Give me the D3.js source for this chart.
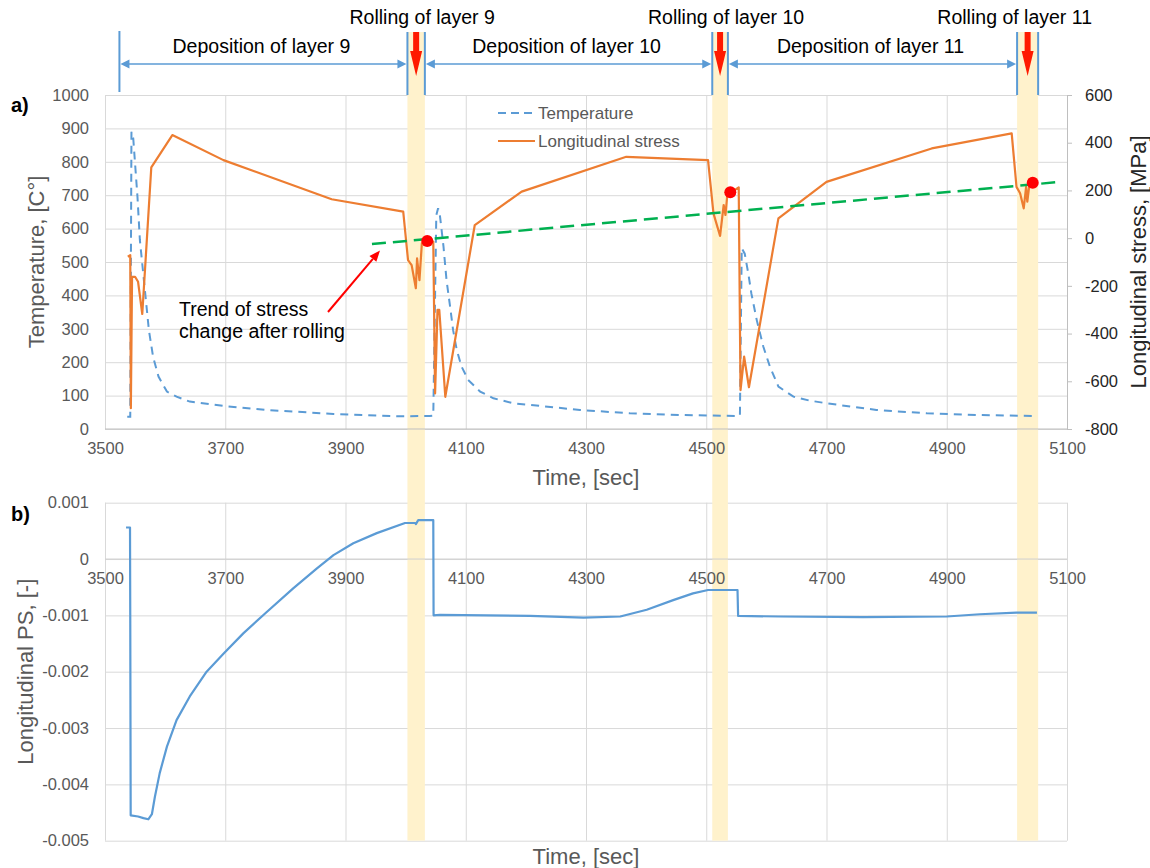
<!DOCTYPE html>
<html>
<head>
<meta charset="utf-8">
<script src="https://cdn.jsdelivr.net/npm/d3@7"></script>
<style>
  body { margin: 0; background: #fff; }
  text { font-family: "Liberation Sans", Arial, sans-serif; }
</style>
</head>
<body>
<div id="chart"></div>
<script>
const width = 1150;
const height = 868;

// ---- data ----
const timeTicks = [3500, 3700, 3900, 4100, 4300, 4500, 4700, 4900, 5100];
const tempTicks = [0, 100, 200, 300, 400, 500, 600, 700, 800, 900, 1000];
const stressTicks = [-800, -600, -400, -200, 0, 200, 400, 600];
const psTicks = [-0.005, -0.004, -0.003, -0.002, -0.001, 0, 0.001];

// temperature (left axis, C)
const tempTime = [3537, 3542, 3544, 3547, 3550, 3554, 3558, 3563, 3568, 3573, 3580, 3589, 3603, 3619, 3641, 3702, 3769, 3880, 3991,
  4040, 4046, 4051, 4054, 4057, 4063, 4068, 4074, 4079, 4085, 4093, 4104, 4124, 4146, 4179, 4207, 4290, 4373, 4456, 4553,
  4556, 4559, 4564, 4570, 4575, 4584, 4595, 4606, 4620, 4645, 4672, 4700, 4783, 4867, 4950, 5043];
const tempVal = [37, 37, 890, 870, 795, 695, 566, 476, 386, 296, 216, 157, 112, 97, 82, 68, 57, 45, 38,
  39, 40, 640, 661, 640, 546, 446, 366, 296, 237, 187, 147, 112, 92, 77, 72, 57, 47, 42, 39,
  40, 541, 525, 465, 406, 326, 246, 186, 127, 97, 85, 77, 57, 47, 42, 39];

// longitudinal stress (right axis, MPa)
const stressTime = [3538, 3542, 3543, 3545, 3550, 3555, 3562, 3577, 3612, 3697, 3877, 3996,
  4004, 4010, 4017, 4019, 4023, 4027, 4046, 4049, 4053, 4056, 4066, 4115, 4193, 4367, 4503,
  4512, 4523, 4529, 4532, 4535, 4554, 4557, 4563, 4571, 4620, 4700, 4875, 5008,
  5016, 5022, 5028, 5032, 5034, 5037, 5043];
const stressVal = [-78, -71, -713, -162, -162, -183, -318, 297, 432, 327, 163, 111,
  -92, -113, -210, -85, -176, -22, -15, -651, -301, -301, -665, 55, 195, 341, 327,
  104, 9, 139, 97, 181, 213, -637, -497, -625, 83, 236, 376, 439,
  215, 188, 125, 215, 153, 215, 232];

// stress after rolling and its trend
const dotTime = [4036, 4540, 5043];
const dotStress = [-12, 192, 232];
const trendTime = [3944, 5090];
const trendStress = [-25, 236];

// longitudinal plastic strain (panel b)
const psTime = [3535, 3541.6, 3542, 3542.7, 3555, 3564, 3572, 3578, 3583, 3591, 3603, 3619, 3641, 3669, 3697, 3730, 3769, 3813,
  3852, 3880, 3913, 3952, 3999, 4016, 4017, 4021, 4046, 4046.5, 4057, 4207, 4296, 4357, 4401, 4445, 4478, 4503,
  4552, 4553, 4623, 4761, 4900, 4955, 5016, 5050];
const psVal = [0.00056, 0.00056, -0.00097, -0.00455, -0.00457, -0.0046, -0.00462, -0.00453, -0.00422, -0.0038, -0.00333,
  -0.00286, -0.00244, -0.002, -0.00168, -0.00132, -0.00094, -0.00052,
  -0.00017, 0.00007, 0.00028, 0.00046, 0.00064, 0.00064, 0.00062, 0.00069, 0.00069, -0.001, -0.00099, -0.00101, -0.00104,
  -0.00102, -0.0009, -0.00073, -0.00061, -0.00055,
  -0.00055, -0.00101, -0.00102, -0.00103, -0.00102, -0.00098, -0.00095, -0.00095];

// rolling windows and deposition phases
const rollStart = [4003, 4510, 5017];
const rollEnd = [4032, 4536, 5052];
const rollLabels = ['Rolling of layer 9', 'Rolling of layer 10', 'Rolling of layer 11'];
const depoStart = [3524, 4032, 4536];
const depoEnd = [4003, 4510, 5017];
const depoLabels = ['Deposition of layer 9', 'Deposition of layer 10', 'Deposition of layer 11'];

// ---- layout ----
const left = 105, right = 1067;
const aTop = 95, aBottom = 429;
const bTop = 502.7, bBottom = 840.7;

const gridColor = '#D9D9D9';
const labelColor = '#595959';
const blue = '#5B9BD5';
const orange = '#ED7D31';

const svg = d3.select('#chart')
  .append('svg')
  .attr('width', width)
  .attr('height', height);

const x = d3.scaleLinear().domain([3500, 5100]).range([left, right]);
const yTemp = d3.scaleLinear().domain([0, 1000]).range([aBottom, aTop]);
const yStress = d3.scaleLinear().domain([-800, 600]).range([aBottom, aTop]);
const yPS = d3.scaleLinear().domain([-0.005, 0.001]).range([bBottom, bTop]);

// plain hyphen minus, no thousands separator
const plain = d => String(d);
const psFormat = d => d === 0 ? '0' : d.toFixed(3);

function styleGrid(g) {
  g.select('.domain').remove();
  g.selectAll('line').attr('stroke', gridColor).attr('stroke-width', 1);
}

function styleLabels(g, size, color) {
  g.select('.domain').remove();
  g.selectAll('text')
    .attr('font-size', size)
    .attr('fill', color);
}

// ---- grids ----
svg.append('g')
  .attr('transform', `translate(0, ${aBottom})`)
  .call(d3.axisBottom(x).tickValues(timeTicks).tickSize(-(aBottom - aTop)).tickFormat(''))
  .call(styleGrid);

svg.append('g')
  .attr('transform', `translate(${left}, 0)`)
  .call(d3.axisLeft(yTemp).tickValues(tempTicks).tickSize(-(right - left)).tickFormat(''))
  .call(styleGrid);

svg.append('g')
  .attr('transform', `translate(0, ${bBottom})`)
  .call(d3.axisBottom(x).tickValues(timeTicks).tickSize(-(bBottom - bTop)).tickFormat(''))
  .call(styleGrid);

svg.append('g')
  .attr('transform', `translate(${left}, 0)`)
  .call(d3.axisLeft(yPS).tickValues(psTicks).tickSize(-(right - left)).tickFormat(''))
  .call(styleGrid);

// ---- rolling bands (yellow) ----
const bands = svg.append('g');
rollStart.forEach((s, i) => {
  bands.append('rect')
    .attr('x', x(s))
    .attr('y', 32)
    .attr('width', x(rollEnd[i]) - x(s))
    .attr('height', bBottom - 32)
    .attr('fill', '#FFF2CC');
});

// ---- axes panel a ----
svg.append('line')
  .attr('x1', left).attr('x2', right)
  .attr('y1', aBottom).attr('y2', aBottom)
  .attr('stroke', '#BFBFBF');

svg.append('g')
  .attr('transform', `translate(0, ${aBottom})`)
  .call(d3.axisBottom(x).tickValues(timeTicks).tickSize(0).tickPadding(13.3).tickFormat(plain))
  .call(g => styleLabels(g, 16.5, labelColor));

svg.append('g')
  .attr('transform', `translate(${left}, 0)`)
  .call(d3.axisLeft(yTemp).tickValues(tempTicks).tickSize(0).tickPadding(16).tickFormat(plain))
  .call(g => styleLabels(g, 16.5, labelColor));

const rightAxis = svg.append('g')
  .attr('transform', `translate(${right}, 0)`)
  .call(d3.axisRight(yStress).tickValues(stressTicks).tickSize(5).tickPadding(13).tickFormat(plain));
rightAxis.select('.domain').attr('stroke', '#BFBFBF');
rightAxis.selectAll('line').attr('stroke', '#BFBFBF');
rightAxis.selectAll('text').attr('font-size', 16.5).attr('fill', '#262626');

// ---- axes panel b ----
svg.append('line')
  .attr('x1', left).attr('x2', right)
  .attr('y1', yPS(0)).attr('y2', yPS(0))
  .attr('stroke', '#CFCFCF');

svg.append('g')
  .attr('transform', `translate(0, ${yPS(0)})`)
  .call(d3.axisBottom(x).tickValues(timeTicks).tickSize(0).tickPadding(13.3).tickFormat(plain))
  .call(g => styleLabels(g, 16.5, labelColor));

svg.append('g')
  .attr('transform', `translate(${left}, 0)`)
  .call(d3.axisLeft(yPS).tickValues(psTicks).tickSize(0).tickPadding(16).tickFormat(psFormat))
  .call(g => styleLabels(g, 16.5, labelColor));

// ---- axis titles ----
svg.append('text')
  .attr('transform', `translate(44, ${(aTop + aBottom) / 2}) rotate(-90)`)
  .attr('text-anchor', 'middle')
  .attr('font-size', 22)
  .attr('fill', labelColor)
  .text('Temperature, [C°]');

svg.append('text')
  .attr('transform', `translate(1146, ${(aTop + aBottom) / 2}) rotate(-90)`)
  .attr('text-anchor', 'middle')
  .attr('font-size', 22)
  .attr('fill', '#262626')
  .text('Longitudinal stress, [MPa]');

svg.append('text')
  .attr('x', (left + right) / 2)
  .attr('y', 485)
  .attr('text-anchor', 'middle')
  .attr('font-size', 22)
  .attr('fill', labelColor)
  .text('Time, [sec]');

svg.append('text')
  .attr('transform', `translate(33, ${(bTop + bBottom) / 2}) rotate(-90)`)
  .attr('text-anchor', 'middle')
  .attr('font-size', 22)
  .attr('fill', labelColor)
  .text('Longitudinal PS, [-]');

svg.append('text')
  .attr('x', (left + right) / 2)
  .attr('y', 864)
  .attr('text-anchor', 'middle')
  .attr('font-size', 22)
  .attr('fill', labelColor)
  .text('Time, [sec]');

svg.append('text')
  .attr('x', 11).attr('y', 112)
  .attr('font-size', 20).attr('font-weight', 'bold').attr('fill', '#000')
  .text('a)');

svg.append('text')
  .attr('x', 11).attr('y', 521)
  .attr('font-size', 20).attr('font-weight', 'bold').attr('fill', '#000')
  .text('b)');

// ---- header: deposition / rolling ----
const header = svg.append('g');
const arrowY = 64;

header.append('line')
  .attr('x1', x(depoStart[0])).attr('x2', x(depoStart[0]))
  .attr('y1', 31).attr('y2', 92)
  .attr('stroke', blue).attr('stroke-width', 2);

rollStart.forEach((s, i) => {
  [s, rollEnd[i]].forEach(t => {
    header.append('line')
      .attr('x1', x(t)).attr('x2', x(t))
      .attr('y1', 32).attr('y2', 95)
      .attr('stroke', blue).attr('stroke-width', 2);
  });
});

function arrowHead(g, xTip, y, dir, color) {
  // dir = 1 points right, -1 points left
  g.append('path')
    .attr('d', `M${xTip},${y} L${xTip - dir * 9},${y - 4.5} L${xTip - dir * 9},${y + 4.5} Z`)
    .attr('fill', color);
}

depoStart.forEach((s, i) => {
  const x1 = x(s) + 1, x2 = x(depoEnd[i]) - 1;
  header.append('line')
    .attr('x1', x1 + 6).attr('x2', x2 - 6)
    .attr('y1', arrowY).attr('y2', arrowY)
    .attr('stroke', blue).attr('stroke-width', 1.6);
  arrowHead(header, x1, arrowY, -1, blue);
  arrowHead(header, x2, arrowY, 1, blue);
  header.append('text')
    .attr('x', (x(s) + x(depoEnd[i])) / 2 - 2)
    .attr('y', 53)
    .attr('text-anchor', 'middle')
    .attr('font-size', 19.5)
    .attr('fill', '#000')
    .text(depoLabels[i]);
});

rollStart.forEach((s, i) => {
  const cx = (x(s) + x(rollEnd[i])) / 2;
  // red down arrow inside the band
  header.append('path')
    .attr('d', `M${cx - 3},32 L${cx + 3},32 L${cx + 3},51 L${cx + 6},51 L${cx},76 L${cx - 6},51 L${cx - 3},51 Z`)
    .attr('fill', '#FF1A00');
  const label = header.append('text')
    .attr('x', cx + 6)
    .attr('y', 24)
    .attr('text-anchor', 'middle')
    .attr('font-size', 19.5)
    .attr('fill', '#000')
    .text(rollLabels[i]);
  const w = label.node().getComputedTextLength();
  if (cx + 6 + w / 2 > 1092) label.attr('x', 1092 - w / 2);
});

// ---- series panel a ----
const tempLine = d3.line().x(d => x(d[0])).y(d => yTemp(d[1]));
const stressLine = d3.line().x(d => x(d[0])).y(d => yStress(d[1]));
const psLine = d3.line().x(d => x(d[0])).y(d => yPS(d[1]));

svg.append('path')
  .datum(d3.zip(tempTime, tempVal))
  .attr('d', tempLine)
  .attr('fill', 'none')
  .attr('stroke', blue)
  .attr('stroke-width', 2)
  .attr('stroke-dasharray', '8,6');

svg.append('path')
  .datum(d3.zip(stressTime, stressVal))
  .attr('d', stressLine)
  .attr('fill', 'none')
  .attr('stroke', orange)
  .attr('stroke-width', 2.2)
  .attr('stroke-linejoin', 'round');

svg.append('path')
  .datum(d3.zip(trendTime, trendStress))
  .attr('d', stressLine)
  .attr('fill', 'none')
  .attr('stroke', '#00B050')
  .attr('stroke-width', 2.5)
  .attr('stroke-dasharray', '14,7');

svg.selectAll('.dot')
  .data(d3.zip(dotTime, dotStress))
  .enter()
  .append('circle')
  .attr('class', 'dot')
  .attr('cx', d => x(d[0]))
  .attr('cy', d => yStress(d[1]))
  .attr('r', 6)
  .attr('fill', '#FF0000');

// ---- legend ----
const legend = svg.append('g');
legend.append('line')
  .attr('x1', 498).attr('x2', 535).attr('y1', 113).attr('y2', 113)
  .attr('stroke', blue).attr('stroke-width', 2).attr('stroke-dasharray', '8,5');
legend.append('text')
  .attr('x', 538).attr('y', 119)
  .attr('font-size', 17).attr('fill', labelColor)
  .text('Temperature');
legend.append('line')
  .attr('x1', 498).attr('x2', 535).attr('y1', 141).attr('y2', 141)
  .attr('stroke', orange).attr('stroke-width', 2.2);
legend.append('text')
  .attr('x', 538).attr('y', 147)
  .attr('font-size', 17).attr('fill', labelColor)
  .text('Longitudinal stress');

// ---- trend annotation ----
svg.append('text')
  .attr('x', 179).attr('y', 316)
  .attr('font-size', 19.5).attr('fill', '#000')
  .text('Trend of stress');
svg.append('text')
  .attr('x', 179).attr('y', 338)
  .attr('font-size', 19.5).attr('fill', '#000')
  .text('change after rolling');

const ax1 = 328, ay1 = 312, ax2 = 380, ay2 = 250.5;
const ang = Math.atan2(ay2 - ay1, ax2 - ax1);
const hl = 11, hw = 4.5;
const bx = ax2 - hl * Math.cos(ang), by = ay2 - hl * Math.sin(ang);
svg.append('line')
  .attr('x1', ax1).attr('y1', ay1).attr('x2', bx).attr('y2', by)
  .attr('stroke', '#FF0000').attr('stroke-width', 2);
svg.append('path')
  .attr('d', `M${ax2},${ay2} L${bx - hw * Math.sin(ang)},${by + hw * Math.cos(ang)} L${bx + hw * Math.sin(ang)},${by - hw * Math.cos(ang)} Z`)
  .attr('fill', '#FF0000');

// ---- series panel b ----
svg.append('path')
  .datum(d3.zip(psTime, psVal))
  .attr('d', psLine)
  .attr('fill', 'none')
  .attr('stroke', blue)
  .attr('stroke-width', 2.2)
  .attr('stroke-linejoin', 'round');
</script>
</body>
</html>
